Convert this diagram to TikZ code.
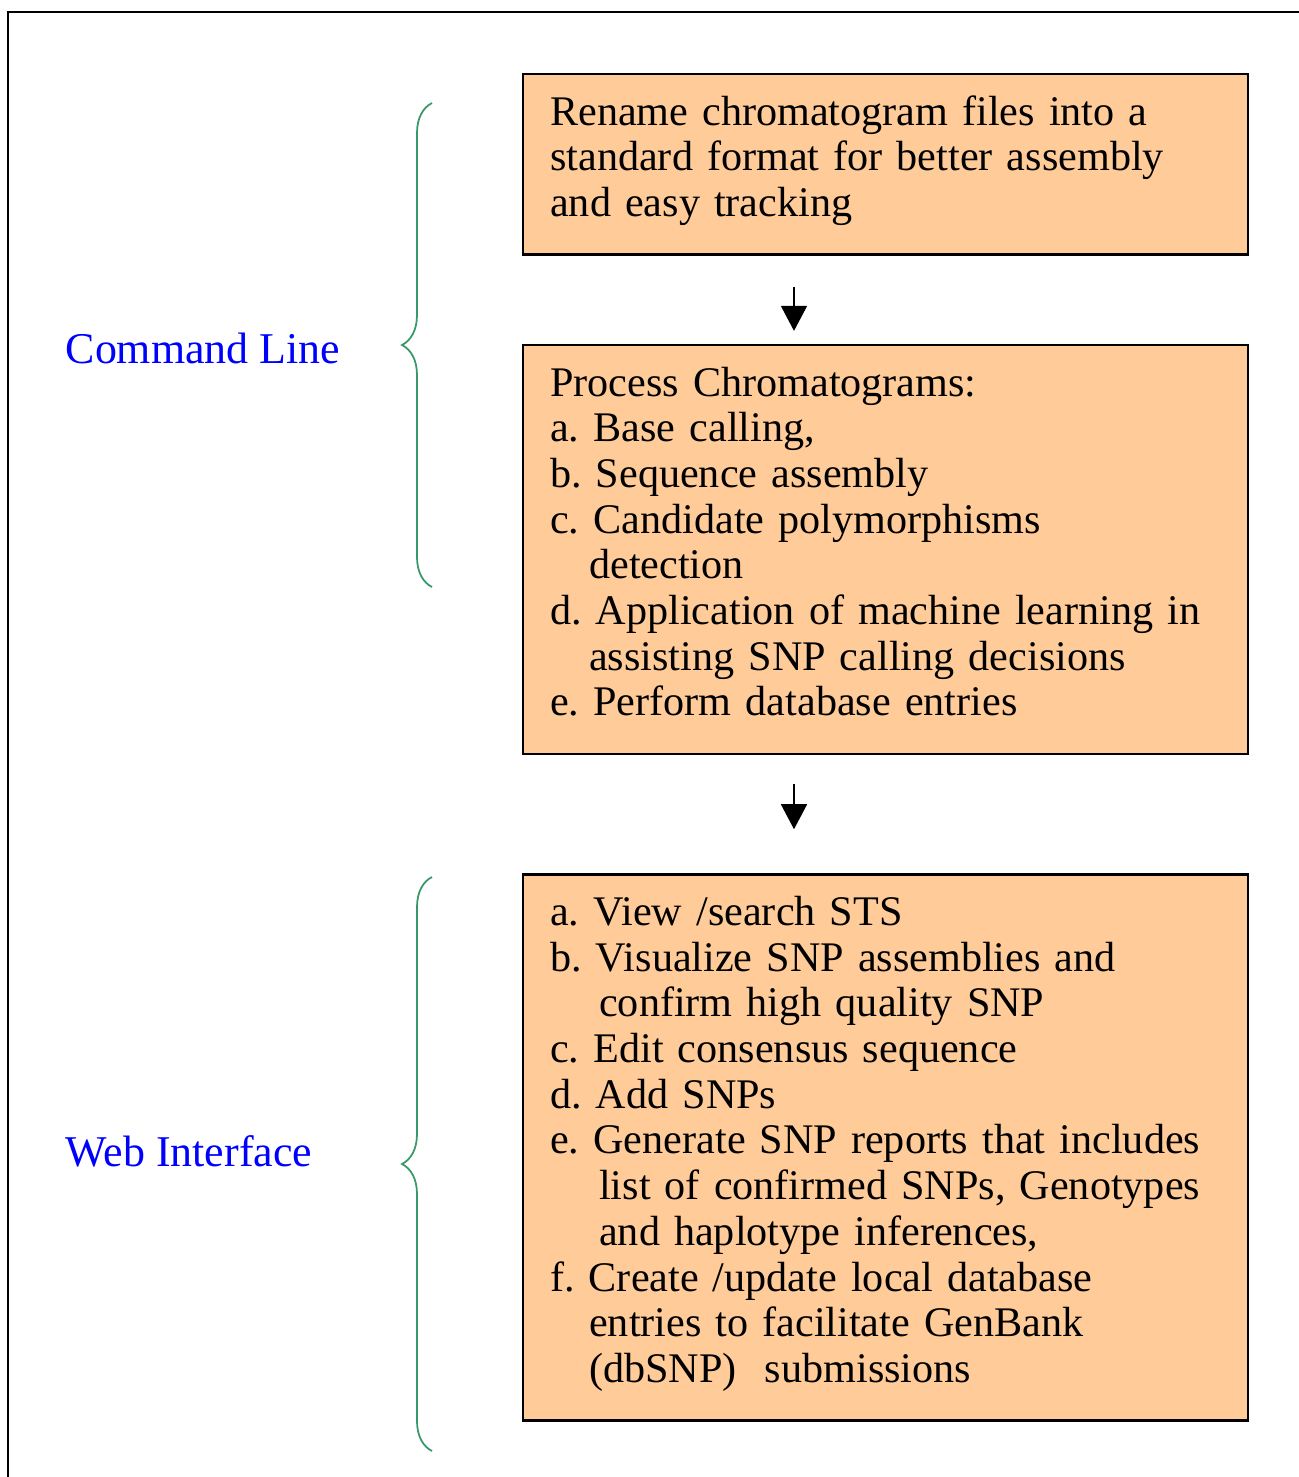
\documentclass[tikz,border=0pt]{standalone}
\usepackage{fontspec}
\setmainfont{Liberation Serif}
\usetikzlibrary{positioning}
\usetikzlibrary{arrows.meta}
\usetikzlibrary{decorations.pathreplacing}
\definecolor{boxfill}{RGB}{255,204,153}
\definecolor{bracegreen}{RGB}{56,152,104}
\frenchspacing

\begin{document}
\begin{tikzpicture}[
		stepbox/.style = {draw, black, line width = 0.7pt, fill = boxfill, text width = 6.71cm, inner xsep = 0.27cm, inner ysep = 0pt, align = left, font = \fontsize{12pt}{0.457cm}\selectfont, execute at begin node = {\rule{0pt}{0.51cm}}, execute at end node = {\rule[-0.38cm]{0pt}{0pt}}},
		flow/.style = {black, line width = 0.45pt, -{Triangle[width = 0.26cm, length = 0.25cm]}},
		curly/.style = {bracegreen, line width = 0.5pt, decorate, decoration = {brace, amplitude = 0.3cm}},
		side/.style = {blue, inner sep = 0pt, anchor = base west, font = \fontsize{12.5pt}{14pt}\selectfont}
	]
	\useasboundingbox (0, 0) rectangle (12.98, -14.77);
	\draw [black, line width = 0.6pt] (0.08, -0.12) rectangle (13.5, -15.5);

	\node [stepbox, anchor = north west] (rename) at (5.22, -0.73) {Rename chromatogram files into a\\standard format for better assembly\\and easy tracking};
	\node [stepbox, below = 0.88 of rename] (process) {Process Chromatograms:\\a. Base calling,\\b. Sequence assembly\\c. Candidate polymorphisms\\\hspace*{0.39cm}detection\\d. Application of machine learning in\\\hspace*{0.39cm}assisting SNP calling decisions\\e. Perform database entries};
	\node [stepbox, below = 1.18 of process] (web) {a. View /search STS\\b. Visualize SNP assemblies and\\\hspace*{0.49cm}confirm high quality SNP\\c. Edit consensus sequence\\d. Add SNPs\\e. Generate SNP reports that includes\\\hspace*{0.49cm}list of confirmed SNPs, Genotypes\\\hspace*{0.49cm}and haplotype inferences,\\f. Create /update local database\\\hspace*{0.39cm}entries to facilitate GenBank\\\hspace*{0.39cm}(dbSNP)\ \ submissions};

	\coordinate (ax) at (7.94, 0);
	\draw [flow, shorten < = 0.31cm, shorten > = 0.13cm] (rename.south -| ax) -- (process.north -| ax);
	\draw [flow, shorten < = 0.29cm, shorten > = 0.44cm] (process.south -| ax) -- (web.north -| ax);

	\draw [curly] (4.32, -5.87) -- (4.32, -1.03);
	\draw [curly] (4.32, -14.51) -- (4.32, -8.77);
	\node [side] (cmd) at (0.65, -3.63) {Command Line};
	\node [side] (wi) at (0.65, -11.66) {Web Interface};
\end{tikzpicture}
\end{document}
